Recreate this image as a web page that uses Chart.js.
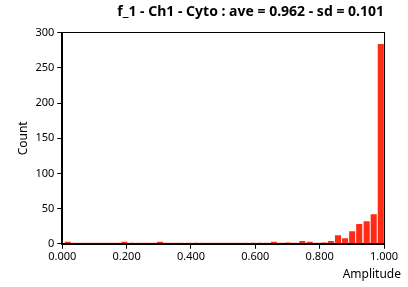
<!DOCTYPE html>
<html>
<head>
<meta charset="utf-8">
<script src="https://cdn.jsdelivr.net/npm/chart.js@4.4.1/dist/chart.umd.min.js"></script>
<style>
  html, body { margin: 0; padding: 0; background: #fff; }
  #wrap { width: 408px; height: 287px; }
</style>
</head>
<body>
<div id="wrap"><canvas id="chart"></canvas></div>
<script>
// histogram data
const chartTitle = 'f_1 - Ch1 - Cyto : ave = 0.962 - sd = 0.101';
const xLabel = 'Amplitude';
const yLabel = 'Count';

const binCenters = [
  0.017, 0.039, 0.061, 0.083, 0.105, 0.127, 0.149, 0.171, 0.193, 0.216,
  0.238, 0.260, 0.282, 0.304, 0.326, 0.348, 0.370, 0.393, 0.415, 0.437,
  0.459, 0.481, 0.503, 0.525, 0.547, 0.570, 0.592, 0.614, 0.636, 0.658,
  0.680, 0.702, 0.724, 0.746, 0.769, 0.791, 0.813, 0.835, 0.857, 0.879,
  0.901, 0.923, 0.946, 0.968, 0.990
];
const counts = [
  3, 1, 1, 1, 1, 1, 1, 1, 3, 1,
  1, 1, 1, 3, 1, 1, 1, 1, 1, 1,
  1, 1, 1, 1, 1, 1, 1, 1, 1, 3,
  1, 2, 1, 4, 3, 1, 2, 4, 12, 8,
  18, 28, 32, 42, 284
];

const barColor = '#ff2b17';
const fontFamily = '"Noto Sans", "Open Sans", sans-serif';

// black frame round the plot area and the x title at the right
const framePlugin = {
  id: 'frame',
  afterDraw(chart) {
    const { ctx, chartArea } = chart;
    ctx.save();
    ctx.strokeStyle = '#000';
    ctx.lineWidth = 1;
    ctx.strokeRect(Math.round(chartArea.left) - 0.5, Math.round(chartArea.top) - 0.5,
      Math.round(chartArea.right - chartArea.left) + 1, Math.round(chartArea.bottom - chartArea.top) + 1);
    ctx.fillStyle = '#000';
    ctx.font = '12px ' + fontFamily;
    ctx.textAlign = 'right';
    ctx.textBaseline = 'middle';
    ctx.fillText(xLabel, chart.width - 7, chart.height - 12);
    ctx.restore();
  }
};

new Chart(document.getElementById('chart'), {
  type: 'bar',
  data: {
    datasets: [{
      data: binCenters.map((x, i) => ({ x: x, y: counts[i] })),
      backgroundColor: barColor,
      borderWidth: 0,
      minBarLength: 1,
      barPercentage: 0.86,
      categoryPercentage: 1.0
    }]
  },
  options: {
    responsive: true,
    maintainAspectRatio: false,
    animation: false,
    layout: { padding: { left: 16, right: 24, top: 2, bottom: 23 } },
    plugins: {
      legend: { display: false },
      tooltip: { enabled: false },
      title: {
        display: true,
        text: chartTitle,
        align: 'end',
        color: '#000',
        font: { family: fontFamily, size: 14, weight: 'bold' },
        padding: { top: 2, bottom: 12 }
      }
    },
    scales: {
      x: {
        type: 'linear',
        offset: false,
        min: 0,
        max: 1,
        grid: { display: true, drawOnChartArea: false, drawTicks: true, tickLength: 5, color: '#000', offset: false },
        border: { display: true, color: '#000' },
        ticks: {
          stepSize: 0.2,
          color: '#000',
          padding: 1,
          maxRotation: 0,
          font: { family: fontFamily, size: 11 },
          callback: v => v.toFixed(3)
        }
      },
      y: {
        min: 0,
        max: 300,
        grid: { display: true, drawOnChartArea: false, drawTicks: true, tickLength: 5, color: '#000' },
        border: { display: true, color: '#000' },
        ticks: {
          stepSize: 50,
          color: '#000',
          padding: 3,
          font: { family: fontFamily, size: 11 }
        },
        title: {
          display: true,
          text: yLabel,
          color: '#000',
          font: { family: fontFamily, size: 12 },
          padding: { top: 0, bottom: 2 }
        }
      }
    }
  },
  plugins: [framePlugin]
});
</script>
</body>
</html>
